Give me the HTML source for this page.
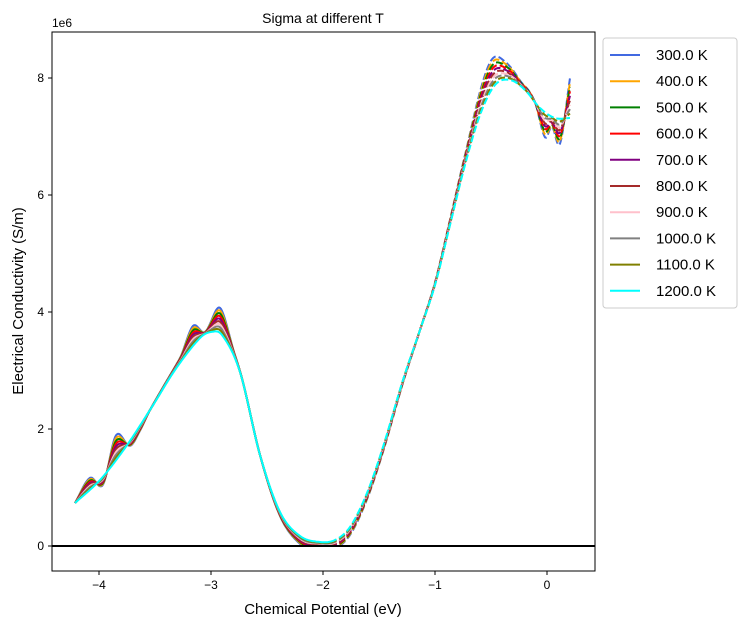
<!DOCTYPE html><html><head><style>body{margin:0;background:#fff}svg{font-family:"Liberation Sans","DejaVu Sans",sans-serif}</style></head><body>
<svg id="s" width="747" height="628" xmlns="http://www.w3.org/2000/svg">
<rect width="747" height="628" fill="#fff"/>
<g id="curves"></g>
<line x1="52" x2="595" y1="546" y2="546" stroke="#000" stroke-width="2"/>
<rect x="52" y="32" width="543" height="539" fill="none" stroke="#000" stroke-width="1"/>
<g font-size="12" fill="#000" text-anchor="middle">
<line x1="99" x2="99" y1="571" y2="575" stroke="#000"/><text x="99" y="589">−4</text>
<line x1="211" x2="211" y1="571" y2="575" stroke="#000"/><text x="211" y="589">−3</text>
<line x1="323" x2="323" y1="571" y2="575" stroke="#000"/><text x="323" y="589">−2</text>
<line x1="435" x2="435" y1="571" y2="575" stroke="#000"/><text x="435" y="589">−1</text>
<line x1="547" x2="547" y1="571" y2="575" stroke="#000"/><text x="547" y="589">0</text>
</g>
<g font-size="12" fill="#000" text-anchor="end">
<line x1="48" x2="52" y1="546" y2="546" stroke="#000"/><text x="44" y="550">0</text>
<line x1="48" x2="52" y1="429" y2="429" stroke="#000"/><text x="44" y="433">2</text>
<line x1="48" x2="52" y1="312" y2="312" stroke="#000"/><text x="44" y="316">4</text>
<line x1="48" x2="52" y1="195" y2="195" stroke="#000"/><text x="44" y="199">6</text>
<line x1="48" x2="52" y1="78" y2="78" stroke="#000"/><text x="44" y="82">8</text>
</g>
<text x="52" y="27" font-size="12">1e6</text>
<text x="323" y="23" font-size="14" text-anchor="middle">Sigma at different T</text>
<text x="323" y="614" font-size="15" text-anchor="middle">Chemical Potential (eV)</text>
<text transform="translate(23,301) rotate(-90)" font-size="15" text-anchor="middle">Electrical Conductivity (S/m)</text>
<rect x="603" y="38" width="134" height="270" rx="3" fill="#fff" stroke="#ccc"/>
<g id="leg" font-size="15"></g>
</svg>
<script>
var cols=["#4169e1","orange","green","red","purple","brown","pink","gray","olive","cyan"];
var C=[[75,503],[100,480],[125,448],[150,410],[175,370],[200,338],[211,332],[222,335],[240,372],[260,455],[280,512],[300,536],[320,542],[335,540],[350,527],[367,493],[383,447],[403,380],[420,330],[435,285],[450,225],[465,165],[480,115],[495,85],[510,80],[525,90],[540,108],[555,118],[570,118]];
var D=[[75,0],[90,-12],[103,8],[116,-25],[130,5],[140,5],[150,0],[180,-5],[193,-20],[205,-2],[220,-25],[235,-3],[260,0],[290,6],[305,8],[320,5],[335,8],[350,8],[370,6],[400,3],[420,0],[465,-10],[490,-30],[505,-18],[520,-5],[535,0],[545,25],[552,10],[560,25],[570,-40]];
function f(P,x){var i=0;while(i<P.length-2&&P[i+1][0]<x)i++;
var p0=P[Math.max(i-1,0)],p1=P[i],p2=P[i+1],p3=P[Math.min(i+2,P.length-1)];
var h=p2[0]-p1[0],t=(x-p1[0])/h;
var m1=(p2[1]-p0[1])/(p2[0]-p0[0])*h,m2=(p3[1]-p1[1])/(p3[0]-p1[0])*h;
var t2=t*t,t3=t2*t;return (2*t3-3*t2+1)*p1[1]+(t3-2*t2+t)*m1+(-2*t3+3*t2)*p2[1]+(t3-t2)*m2;}
var g=document.getElementById("curves"),s="",L=document.getElementById("leg"),l="";
for(var k=0;k<10;k++){var t=k/9,a="",b="";
for(var x=75;x<=570;x+=1){var y=f(C,x)+f(D,x)*(1-t);if(y>546)y=546;var pt=x.toFixed(0)+","+y.toFixed(1)+" ";
if(x<=330)a+=pt;if(x>=330)b+=pt;}
s+='<polyline points="'+a+'" fill="none" stroke="'+cols[k]+'" stroke-width="2"/>';
s+='<polyline points="'+b+'" fill="none" stroke="'+cols[k]+'" stroke-width="2" stroke-dasharray="7,3"/>';
var yy=55+k*26.2;
l+='<line x1="610" x2="640" y1="'+yy+'" y2="'+yy+'" stroke="'+cols[k]+'" stroke-width="2"/><text x="656" y="'+(yy+5)+'">'+(300+k*100)+'.0 K</text>';}
g.innerHTML=s;L.innerHTML=l;
</script>
</body></html>
